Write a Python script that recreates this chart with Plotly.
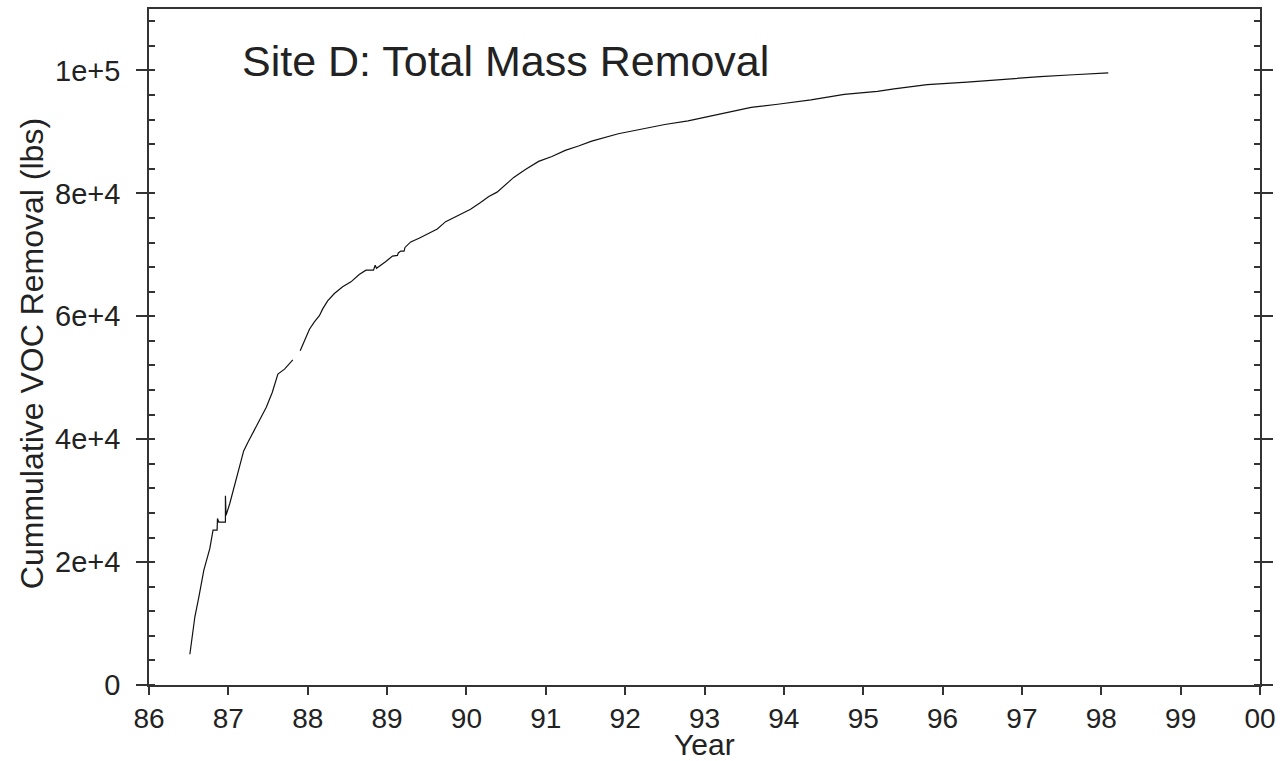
import plotly.graph_objects as go

# Decimal year of each reading (None marks the gap in the record)
years = [86.515, 86.578, 86.628, 86.691, 86.766, 86.807, 86.858, 86.863, 86.879, 86.963,
         86.963, 86.971, 87.017, 87.092, 87.143, 87.193, 87.247, 87.372, 87.478, 87.553,
         87.624, 87.708, 87.812, None,
         87.905, 87.959, 88.022, 88.084, 88.147, 88.189, 88.251, 88.336, 88.440, 88.545,
         88.649, 88.734, 88.829, 88.850, 88.867, 88.985, 89.068, 89.130, 89.142, 89.172,
         89.214, 89.226, 89.298, 89.403, 89.528, 89.633, 89.738, 89.905, 90.052, 90.178,
         90.282, 90.386, 90.491, 90.596, 90.743, 90.910, 91.077, 91.245, 91.412, 91.579,
         91.914, 92.207, 92.500, 92.793, 93.170, 93.588, 93.923, 94.341, 94.761, 95.179,
         95.389, 95.806, 96.309, 96.811, 97.229, 97.648, 98.088]

# Cumulative VOC mass removed (lbs)
removal = [5000, 11100, 14300, 18700, 22200, 25200, 25200, 27100, 26500, 26500,
           30800, 27600, 29500, 33300, 35400, 38100, 39500, 42500, 45200, 47600,
           50600, 51400, 52900, None,
           54400, 56000, 57900, 59100, 60100, 61200, 62500, 63700, 64800, 65600,
           66800, 67500, 67500, 68300, 67800, 68900, 69800, 69900, 70300, 70600,
           70600, 71200, 72100, 72700, 73500, 74200, 75400, 76500, 77400, 78500,
           79500, 80200, 81400, 82600, 83900, 85200, 86000, 87000, 87700, 88500,
           89700, 90500, 91200, 91800, 92900, 94000, 94500, 95200, 96100, 96600,
           97000, 97700, 98100, 98600, 99000, 99300, 99600]

year_ticks = list(range(86, 101))
year_labels = ["86", "87", "88", "89", "90", "91", "92", "93", "94", "95",
               "96", "97", "98", "99", "00"]
y_ticks = [0, 20000, 40000, 60000, 80000, 100000]
y_labels = ["0", "2e+4", "4e+4", "6e+4", "8e+4", "1e+5"]

FONT = "Liberation Sans, Arial, sans-serif"
AX = "#333333"
TXT = "#222222"

fig = go.Figure()
fig.add_trace(go.Scatter(
    x=years, y=removal, mode="lines",
    line=dict(color="#111111", width=1.2),
    connectgaps=False, showlegend=False, hoverinfo="skip",
))

fig.update_layout(
    width=1283, height=761,
    margin=dict(l=149, r=19, t=7, b=76),
    paper_bgcolor="white", plot_bgcolor="white",
    font=dict(family=FONT, color=TXT),
    xaxis=dict(
        range=[86, 100], tickvals=year_ticks, ticktext=year_labels,
        ticks="outside", ticklen=8, tickwidth=1.5, tickcolor=AX,
        showline=True, linecolor=AX, linewidth=1.5, mirror=True,
        showgrid=False, zeroline=False,
        tickfont=dict(size=28, family=FONT, color=TXT),
    ),
    xaxis2=dict(
        range=[86, 100], overlaying="x", side="top", matches="x",
        tickvals=year_ticks, ticks="inside", ticklen=10, tickwidth=1.5,
        tickcolor=AX, showticklabels=False, showline=False,
        showgrid=False, zeroline=False,
    ),
    yaxis=dict(
        range=[0, 110000], tickvals=y_ticks, ticktext=y_labels,
        ticks="outside", ticklen=11, tickwidth=1.5, tickcolor=AX,
        showline=True, linecolor=AX, linewidth=1.5, mirror="ticks",
        showgrid=False, zeroline=False, ticklabelstandoff=10,
        tickfont=dict(size=29, family=FONT, color=TXT),
        minor=dict(dtick=4000, tick0=0, ticks="inside", ticklen=6,
                   tickwidth=1.5, tickcolor=AX, showgrid=False),
    ),
    annotations=[
        dict(text="Site D: Total Mass Removal", xref="paper", yref="paper",
             x=(240 - 149) / 1115, y=(685 - 59) / 678, xanchor="left", yanchor="middle",
             showarrow=False, font=dict(size=43, family=FONT, color=TXT)),
        dict(text="Cummulative VOC Removal (lbs)", xref="paper", yref="paper",
             x=(31 - 149) / 1115, y=0.49, xanchor="center", yanchor="middle",
             textangle=-90, showarrow=False,
             font=dict(size=32, family=FONT, color=TXT)),
        dict(text="Year", xref="paper", yref="paper",
             x=0.5, y=-(745 - 685) / 678, xanchor="center", yanchor="middle",
             showarrow=False, font=dict(size=30, family=FONT, color=TXT)),
    ],
)

fig.write_html("out.html")
